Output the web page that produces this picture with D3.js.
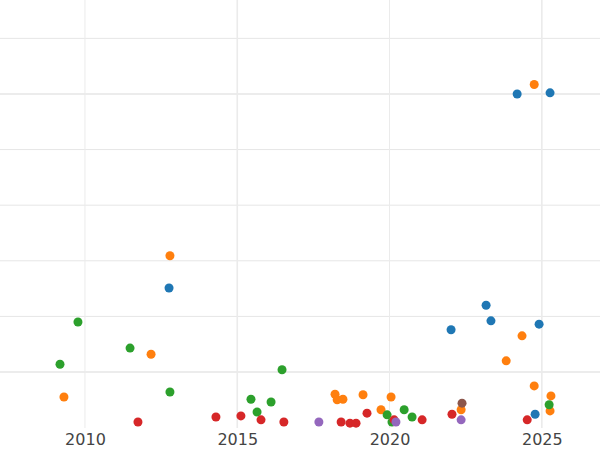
<!DOCTYPE html>
<html><head><meta charset="utf-8">
<script src="https://cdn.jsdelivr.net/npm/d3@7"></script>
<style>body{margin:0;background:#fff}</style></head>
<body><script>
const W = 600, H = 450;
const years = [2010, 2015, 2020, 2025];
const yGrid = [1, 2, 3, 4, 5, 6, 7];
// [year offset from 2010, value]
const blue = [[14.19,6.0],[15.27,6.02],[2.76,2.51],[12.02,1.76],[13.17,2.2],[13.33,1.92],[14.91,1.86],[14.78,0.24]];
const orange = [[14.75,6.17],[2.79,3.09],[-0.69,0.55],[2.17,1.32],[14.35,1.65],[13.83,1.2],[14.75,0.75],[15.3,0.57],[15.27,0.3],[8.21,0.6],[8.28,0.5],[8.47,0.51],[9.13,0.59],[9.72,0.32],[10.05,0.55],[12.35,0.32]];
const green = [[-0.23,1.9],[-0.82,1.14],[1.48,1.43],[2.79,0.64],[6.47,1.04],[5.45,0.51],[5.65,0.28],[6.11,0.46],[9.92,0.23],[10.08,0.1],[10.48,0.32],[10.74,0.19],[15.24,0.41]];
const red = [[1.74,0.1],[4.3,0.19],[5.12,0.21],[5.78,0.14],[6.53,0.1],[8.41,0.1],[8.7,0.08],[8.9,0.08],[9.26,0.26],[10.15,0.14],[11.07,0.14],[12.05,0.24],[14.52,0.14]];
const purple = [[7.68,0.1],[10.21,0.1],[12.35,0.14]];
const brown = [[12.38,0.44]];
const series = [[blue,"#1f77b4"],[orange,"#ff7f0e"],[green,"#2ca02c"],[red,"#d62728"],[purple,"#9467bd"],[brown,"#8c564b"]];

const x = d3.scaleLinear().domain([2007.21, 2026.91]).range([0, W]);
const y = d3.scaleLinear().domain([0, 7.69]).range([427.6, 0]);
const svg = d3.select("body").append("svg").attr("width", W).attr("height", H);

svg.selectAll(".hg").data(yGrid).join("line")
  .attr("x1", 0).attr("x2", W).attr("y1", d => y(d)).attr("y2", d => y(d))
  .attr("stroke", "#e6e6e6").attr("stroke-width", d => (d == 1 || d == 6) ? 1.6 : 1);
svg.selectAll(".vg").data(years).join("line")
  .attr("x1", d => x(d)).attr("x2", d => x(d)).attr("y1", 0).attr("y2", 428)
  .attr("stroke", "#ebebeb").attr("stroke-width", d => d % 10 == 5 ? 1.6 : 1);

const ax = svg.append("g").attr("transform", "translate(0,428)")
  .call(d3.axisBottom(x).tickValues(years).tickFormat(d3.format("d")).tickSize(0).tickPadding(6));
ax.select(".domain").remove();
ax.selectAll("text").attr("font-family", "DejaVu Sans").attr("font-size", 16).attr("fill", "#444");

for (const [pts, c] of series) {
  svg.append("g").selectAll("circle").data(pts).join("circle")
    .attr("cx", d => x(2010 + d[0])).attr("cy", d => y(d[1])).attr("r", 4.5).attr("fill", c);
}
</script></body></html>
